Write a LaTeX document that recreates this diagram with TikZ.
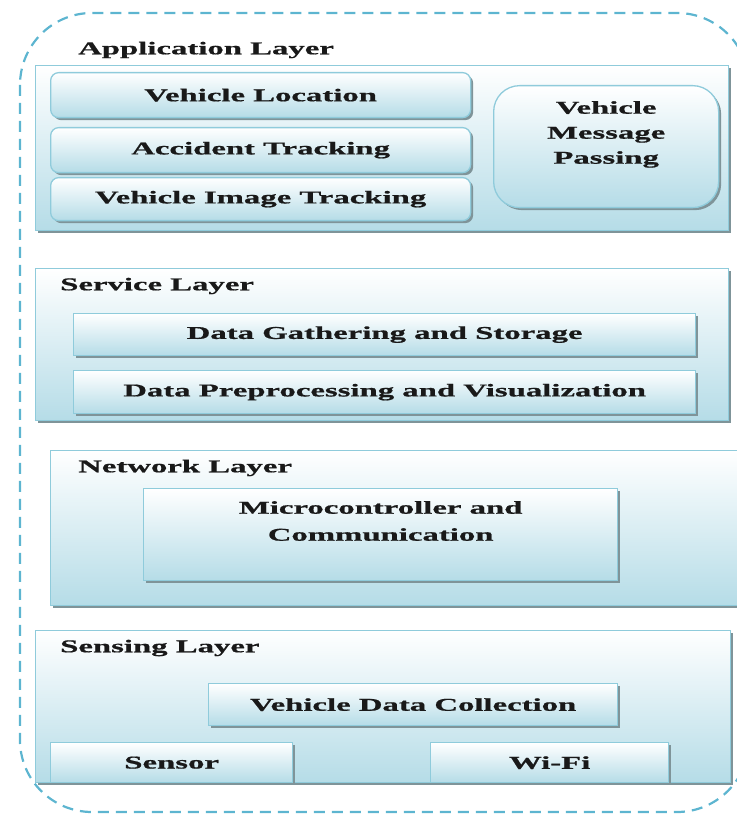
\documentclass[tikz,border=0pt]{standalone}
\usepackage{fontspec}
\setmainfont{Liberation Serif}[FakeStretch=1.82, BoldFeatures={FakeBold=0.8}]
\usetikzlibrary{shadows}
\definecolor{edgeblue}{HTML}{8FCBDB}
\definecolor{fillblue}{HTML}{B5DCE7}
\definecolor{dashblue}{HTML}{5DB5D0}
\definecolor{shadowgray}{HTML}{7F9499}
\tikzset{
  every node/.style={font=\fontsize{18}{25}\selectfont\bfseries, text=black!90},
  layerbox/.style={draw=edgeblue, line width=1.3pt, top color=white, bottom color=fillblue,
    anchor=north west, inner sep=0pt,
    drop shadow={shadow xshift=2pt, shadow yshift=-2pt, fill=shadowgray, opacity=1}},
  itembox/.style={draw=edgeblue, line width=1.3pt, top color=white, bottom color=fillblue,
    anchor=north west, inner sep=0pt, align=center,
    drop shadow={shadow xshift=2.5pt, shadow yshift=-2.5pt, fill=shadowgray, opacity=1}},
  roundbox/.style={itembox, rounded corners=8pt},
  title/.style={anchor=west, inner sep=0pt},
  frame/.style={draw=dashblue, line width=2.2pt, dash pattern=on 11pt off 7pt, rounded corners=72pt}
}
\begin{document}
\begin{tikzpicture}[x=1pt, y=1pt]
\useasboundingbox (0,0) rectangle (736,818);

% outer dashed frame
\draw[frame] (20,805) rectangle (749,6);

% application layer
\node[layerbox, minimum width=693pt, minimum height=165pt] (app) at (35,753) {};
\node[title] (apptitle) at (78,768) {Application Layer};
\node[roundbox, minimum width=420pt, minimum height=45pt] (loc) at (50,746) {Vehicle Location};
\node[roundbox, minimum width=420pt, minimum height=45pt] (acc) at (50,691) {Accident Tracking};
\node[roundbox, minimum width=420pt, minimum height=43pt] (img) at (50,641) {Vehicle Image Tracking};
\node[itembox, rounded corners=26pt, minimum width=225pt, minimum height=122pt] (msg) at (493,733) {};
\node[align=center, anchor=north, inner sep=0pt] (msgtext) at ([yshift=-16pt]msg.north)
  {Vehicle\\Message\\Passing};

% service layer
\node[layerbox, minimum width=693pt, minimum height=152pt] (srv) at (35,550) {};
\node[title] (srvtitle) at (60,532) {Service Layer};
\node[itembox, minimum width=622pt, minimum height=42pt] (gather) at (73,505) {Data Gathering and Storage};
\node[itembox, minimum width=622pt, minimum height=43pt] (prep) at (73,448) {Data Preprocessing and Visualization};

% network layer
\node[layerbox, minimum width=700pt, minimum height=155pt] (net) at (50,368) {};
\node[title] (nettitle) at (78,350) {Network Layer};
\node[itembox, minimum width=474pt, minimum height=92pt] (micro) at (143,330) {};
\node[align=center, anchor=north, inner sep=0pt] (microtext) at ([yshift=-13pt]micro.north)
  {Microcontroller and\\[2pt]Communication};

% sensing layer
\node[layerbox, minimum width=695pt, minimum height=152pt] (sen) at (35,188) {};
\node[title] (sentitle) at (60,170) {Sensing Layer};
\node[itembox, minimum width=409pt, minimum height=42pt] (collect) at (208,135) {Vehicle Data Collection};
\node[itembox, minimum width=242pt, minimum height=40pt] (sensor) at (50,76) {Sensor};
\node[itembox, minimum width=238pt, minimum height=40pt] (wifi) at (430,76) {Wi-Fi};
\end{tikzpicture}
\end{document}
